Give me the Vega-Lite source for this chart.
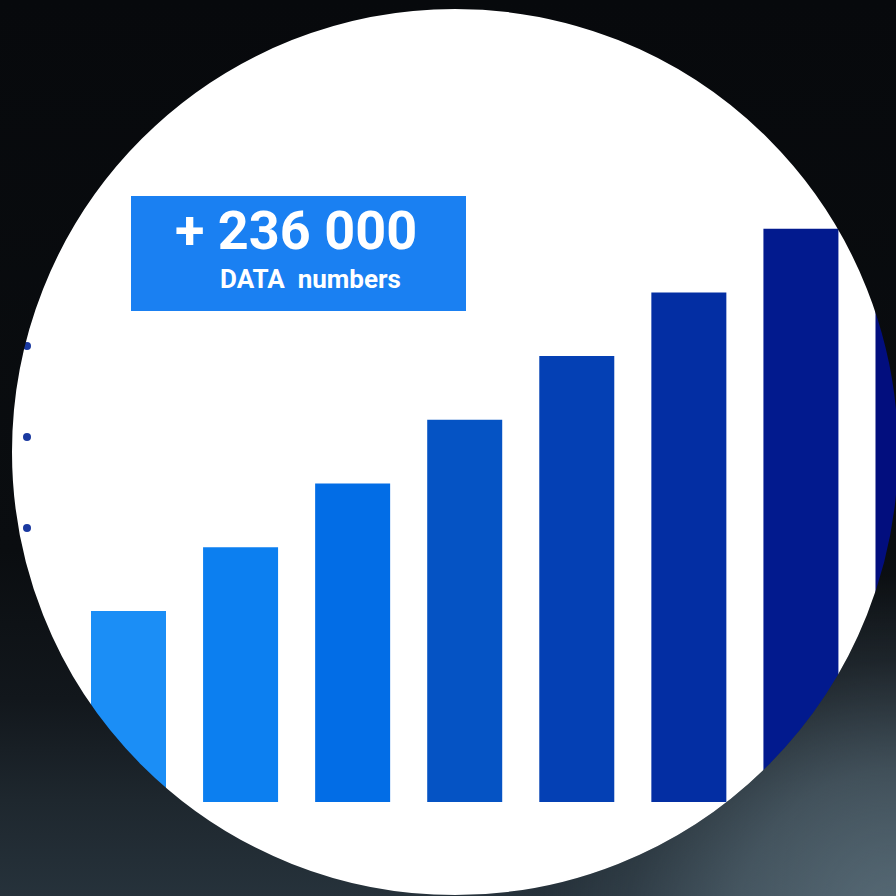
{
  "$schema": "https://vega.github.io/schema/vega-lite/v6.json",
  "width": 896,
  "height": 896,
  "autosize": {"type": "none"},
  "padding": 0,
  "background": "#ffffff",
  "config": {"view": {"stroke": null}, "scale": {"continuousPadding": 0}},
  "datasets": {
    "bars": [
      {"bar": 1, "value": 3},
      {"bar": 2, "value": 4},
      {"bar": 3, "value": 5},
      {"bar": 4, "value": 6},
      {"bar": 5, "value": 7},
      {"bar": 6, "value": 8},
      {"bar": 7, "value": 9},
      {"bar": 8, "value": 10}
    ],
    "dots": [
      {"pos": 0.0943, "level": 7.158},
      {"pos": 0.0943, "level": 5.730},
      {"pos": 0.0943, "level": 4.301}
    ]
  },
  "layer": [
    {
      "data": {"name": "bars"},
      "mark": {"type": "bar", "width": 75, "opacity": 1},
      "encoding": {
        "x": {"field": "bar", "type": "quantitative", "axis": null, "scale": {"domain": [-0.14661, 7.84836], "nice": false, "zero": false, "padding": 0}},
        "y": {"field": "value", "type": "quantitative", "axis": null, "scale": {"domain": [-1.47567, 12.59027], "nice": false, "zero": false, "padding": 0}},
        "color": {"field": "bar", "type": "ordinal", "legend": null, "scale": {"range": ["#1b8ef6", "#0c7ff0", "#026de6", "#0553c4", "#0440b4", "#032ea3", "#021a8e", "#020e7e"]}}
      }
    },
    {
      "data": {"name": "dots"},
      "mark": {"type": "point", "shape": "circle", "filled": true, "size": 64, "color": "#1a39a0", "opacity": 1},
      "encoding": {
        "x": {"field": "pos", "type": "quantitative", "axis": null, "scale": {"domain": [-0.14661, 7.84836], "nice": false, "zero": false, "padding": 0}},
        "y": {"field": "level", "type": "quantitative", "axis": null, "scale": {"domain": [-1.47567, 12.59027], "nice": false, "zero": false, "padding": 0}}
      }
    },
    {
      "data": {"values": [{}]},
      "mark": {"type": "rect", "color": "#1a80f2", "opacity": 1},
      "encoding": {
        "x": {"datum": 1.0223, "type": "quantitative", "axis": null, "scale": {"domain": [-0.14661, 7.84836], "nice": false, "zero": false, "padding": 0}},
        "x2": {"datum": 4.0115},
        "y": {"datum": 9.513, "type": "quantitative", "axis": null, "scale": {"domain": [-1.47567, 12.59027], "nice": false, "zero": false, "padding": 0}},
        "y2": {"datum": 7.708}
      }
    },
    {
      "data": {"values": [{}]},
      "mark": {"type": "text", "text": "+ 236 000", "font": "Roboto", "fontWeight": "bold", "fontSize": 54, "color": "#ffffff", "align": "left", "baseline": "alphabetic"},
      "encoding": {
        "x": {"datum": 1.4149, "type": "quantitative", "axis": null, "scale": {"domain": [-0.14661, 7.84836], "nice": false, "zero": false, "padding": 0}},
        "y": {"datum": 8.681, "type": "quantitative", "axis": null, "scale": {"domain": [-1.47567, 12.59027], "nice": false, "zero": false, "padding": 0}}
      }
    },
    {
      "data": {"values": [{}]},
      "mark": {"type": "text", "text": "DATA\u00a0 numbers", "font": "Roboto", "fontWeight": "bold", "fontSize": 26, "color": "#ffffff", "align": "left", "baseline": "alphabetic"},
      "encoding": {
        "x": {"datum": 1.8165, "type": "quantitative", "axis": null, "scale": {"domain": [-0.14661, 7.84836], "nice": false, "zero": false, "padding": 0}},
        "y": {"datum": 8.069, "type": "quantitative", "axis": null, "scale": {"domain": [-1.47567, 12.59027], "nice": false, "zero": false, "padding": 0}}
      }
    },
    {
      "data": {"values": [{}]},
      "mark": {
        "type": "point", "shape": "circle", "filled": false, "size": 1223236, "strokeWidth": 220, "opacity": 1,
        "stroke": {
          "gradient": "linear", "x1": 0.5, "y1": 0.0913, "x2": 0.5, "y2": 0.9014,
          "stops": [
            {"offset": 0, "color": "#07090c"},
            {"offset": 0.614, "color": "#0a0d10"},
            {"offset": 0.78, "color": "#12171c"},
            {"offset": 0.893, "color": "#1e272e"},
            {"offset": 1, "color": "#26323b"}
          ]
        }
      },
      "encoding": {
        "x": {"datum": 3.91336, "type": "quantitative", "axis": null, "scale": {"domain": [-0.14661, 7.84836], "nice": false, "zero": false, "padding": 0}},
        "y": {"datum": 5.4945, "type": "quantitative", "axis": null, "scale": {"domain": [-1.47567, 12.59027], "nice": false, "zero": false, "padding": 0}}
      }
    },
    {
      "data": {"values": [{}]},
      "mark": {
        "type": "point", "shape": "circle", "filled": false, "size": 1223236, "strokeWidth": 220, "opacity": 1,
        "stroke": {
          "gradient": "radial", "x1": 0.8987, "y1": 0.9322, "r1": 0, "x2": 0.8987, "y2": 0.9322, "r2": 0.32,
          "stops": [
            {"offset": 0, "color": "rgba(92,112,124,0.92)"},
            {"offset": 0.45, "color": "rgba(92,112,124,0.58)"},
            {"offset": 0.76, "color": "rgba(92,112,124,0.18)"},
            {"offset": 1, "color": "rgba(92,112,124,0)"}
          ]
        }
      },
      "encoding": {
        "x": {"datum": 3.91336, "type": "quantitative", "axis": null, "scale": {"domain": [-0.14661, 7.84836], "nice": false, "zero": false, "padding": 0}},
        "y": {"datum": 5.4945, "type": "quantitative", "axis": null, "scale": {"domain": [-1.47567, 12.59027], "nice": false, "zero": false, "padding": 0}}
      }
    }
  ]
}
